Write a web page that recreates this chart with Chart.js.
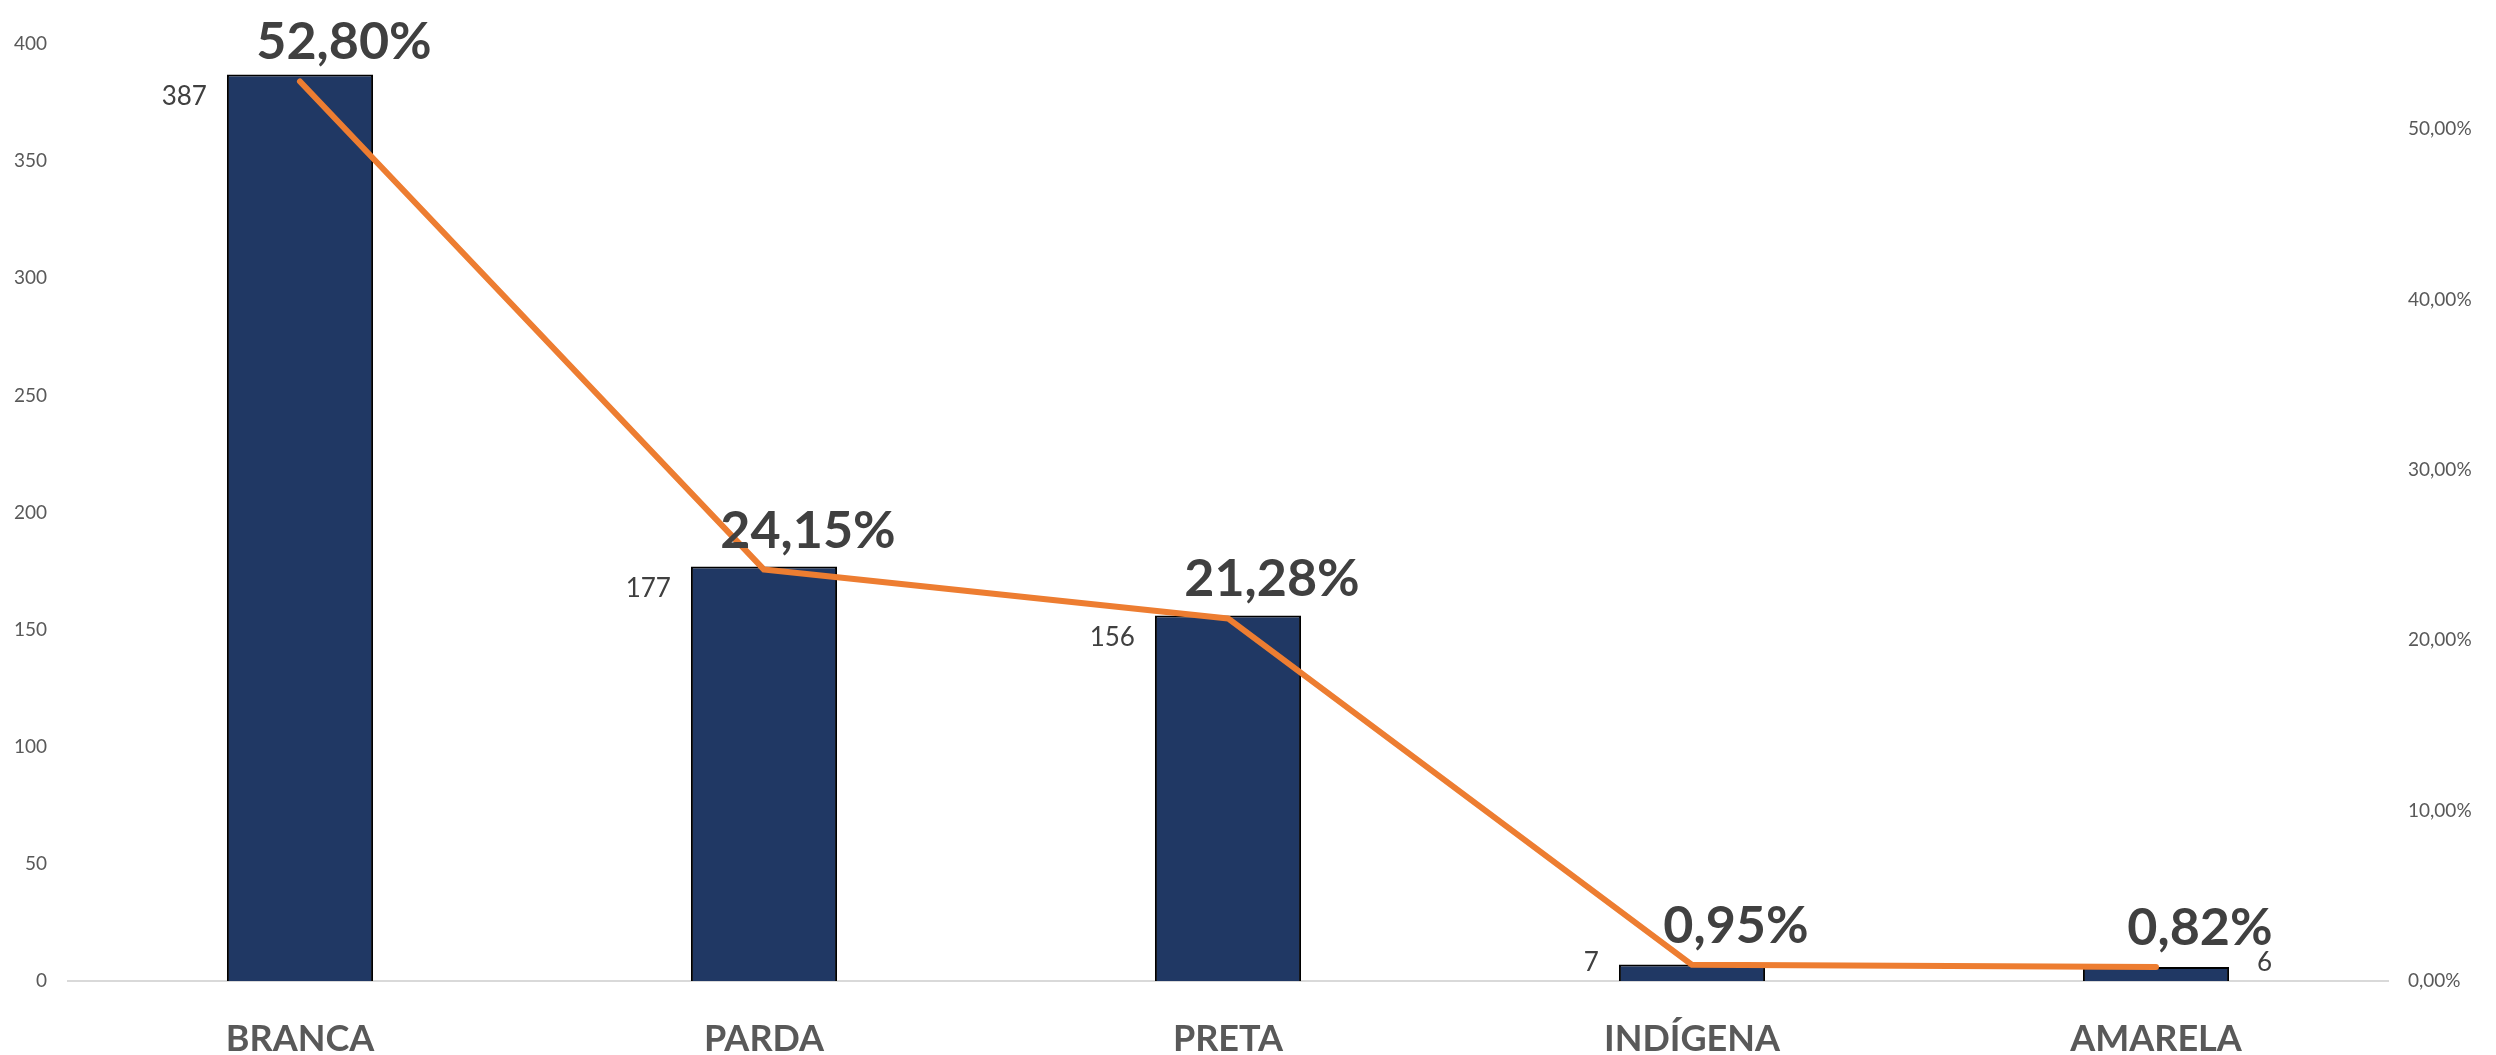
<!DOCTYPE html>
<html>
<head>
<meta charset="utf-8">
<title>Raça/cor</title>
<script src="https://cdn.jsdelivr.net/npm/chart.js@4"></script>
<style>
  html, body { margin: 0; padding: 0; background: #fff; }
  #chart { display: block; }
</style>
</head>
<body>
<canvas id="chart" width="2496" height="1055"></canvas>
<script>
const categories = ["BRANCA", "PARDA", "PRETA", "INDÍGENA", "AMARELA"];
const counts = [387, 177, 156, 7, 6];
const percents = [52.80, 24.15, 21.28, 0.95, 0.82];
const countTicks = [0, 50, 100, 150, 200, 250, 300, 350, 400];
const percentTicks = [0, 10, 20, 30, 40, 50];

const FONT = "Lato, 'Open Sans', sans-serif";
const fmtPct = v => v.toFixed(2).replace(".", ",") + "%";

/* data labels drawn on top of the marks */
const labelPlugin = {
  id: "labels",
  afterDatasetsDraw(c) {
    const ctx = c.ctx;
    const bars = c.getDatasetMeta(0).data;
    const pts = c.getDatasetMeta(1).data;
    const base = c.scales.y.getPixelForValue(0);
    ctx.save();

    // bar counts, beside the bar top
    ctx.font = "26px " + FONT;
    ctx.fillStyle = "#404040";
    ctx.textBaseline = "middle";
    bars.forEach((b, i) => {
      const half = b.width / 2;
      const y = Math.min(b.y + 22, base - 18);
      if (i === bars.length - 1) {
        ctx.textAlign = "left";
        ctx.fillText(String(counts[i]), b.x + half + 28, y);
      } else {
        ctx.textAlign = "right";
        ctx.fillText(String(counts[i]), b.x - half - 20, y);
      }
    });

    // percentages above the line
    ctx.font = "bold 52px " + FONT;
    ctx.textAlign = "center";
    ctx.textBaseline = "alphabetic";
    pts.forEach((p, i) => {
      ctx.fillText(fmtPct(percents[i]), p.x + 44, p.y - 22);
    });
    ctx.restore();
  }
};

function draw() {
  new Chart(document.getElementById("chart"), {
    type: "bar",
    data: {
      labels: categories,
      datasets: [
        {
          type: "bar",
          data: counts,
          yAxisID: "y",
          backgroundColor: "#203864",
          borderColor: "#000000",
          borderWidth: 2,
          categoryPercentage: 1,
          barPercentage: 0.315,
          order: 1
        },
        {
          type: "line",
          data: percents,
          yAxisID: "y1",
          borderColor: "#ED7D31",
          borderWidth: 6,
          borderCapStyle: "round",
          borderJoinStyle: "round",
          tension: 0,
          pointRadius: 0,
          order: 0
        }
      ]
    },
    options: {
      responsive: false,
      animation: false,
      devicePixelRatio: 1,
      layout: { padding: { top: 44, left: 0, right: 0, bottom: 0 } },
      plugins: {
        legend: { display: false },
        tooltip: { enabled: false }
      },
      scales: {
        x: {
          grid: { display: false, drawTicks: false },
          border: { display: true, color: "#D9D9D9", width: 2 },
          ticks: {
            color: "#595959",
            font: { family: FONT, size: 36, weight: "bold" },
            padding: 37,
            maxRotation: 0
          },
          afterFit(s) { s.height = 74; }
        },
        y: {
          position: "left",
          min: 0,
          max: 400,
          grid: { display: false, drawTicks: false },
          border: { display: false },
          ticks: {
            color: "#595959",
            font: { family: FONT, size: 19 },
            padding: 21,
            stepSize: 50
          },
          afterBuildTicks(s) { s.ticks = countTicks.map(v => ({ value: v })); },
          afterFit(s) { s.width = 68; }
        },
        y1: {
          position: "right",
          min: 0,
          max: 55,
          grid: { display: false, drawTicks: false },
          border: { display: false },
          ticks: {
            color: "#595959",
            font: { family: FONT, size: 19 },
            padding: 20,
            callback: v => fmtPct(v)
          },
          afterBuildTicks(s) { s.ticks = percentTicks.map(v => ({ value: v })); },
          afterFit(s) { s.width = 108; }
        }
      }
    },
    plugins: [labelPlugin]
  });
}

Promise.all([
  document.fonts.load("26px Lato"),
  document.fonts.load("bold 52px Lato")
]).then(draw, draw);
</script>
</body>
</html>
